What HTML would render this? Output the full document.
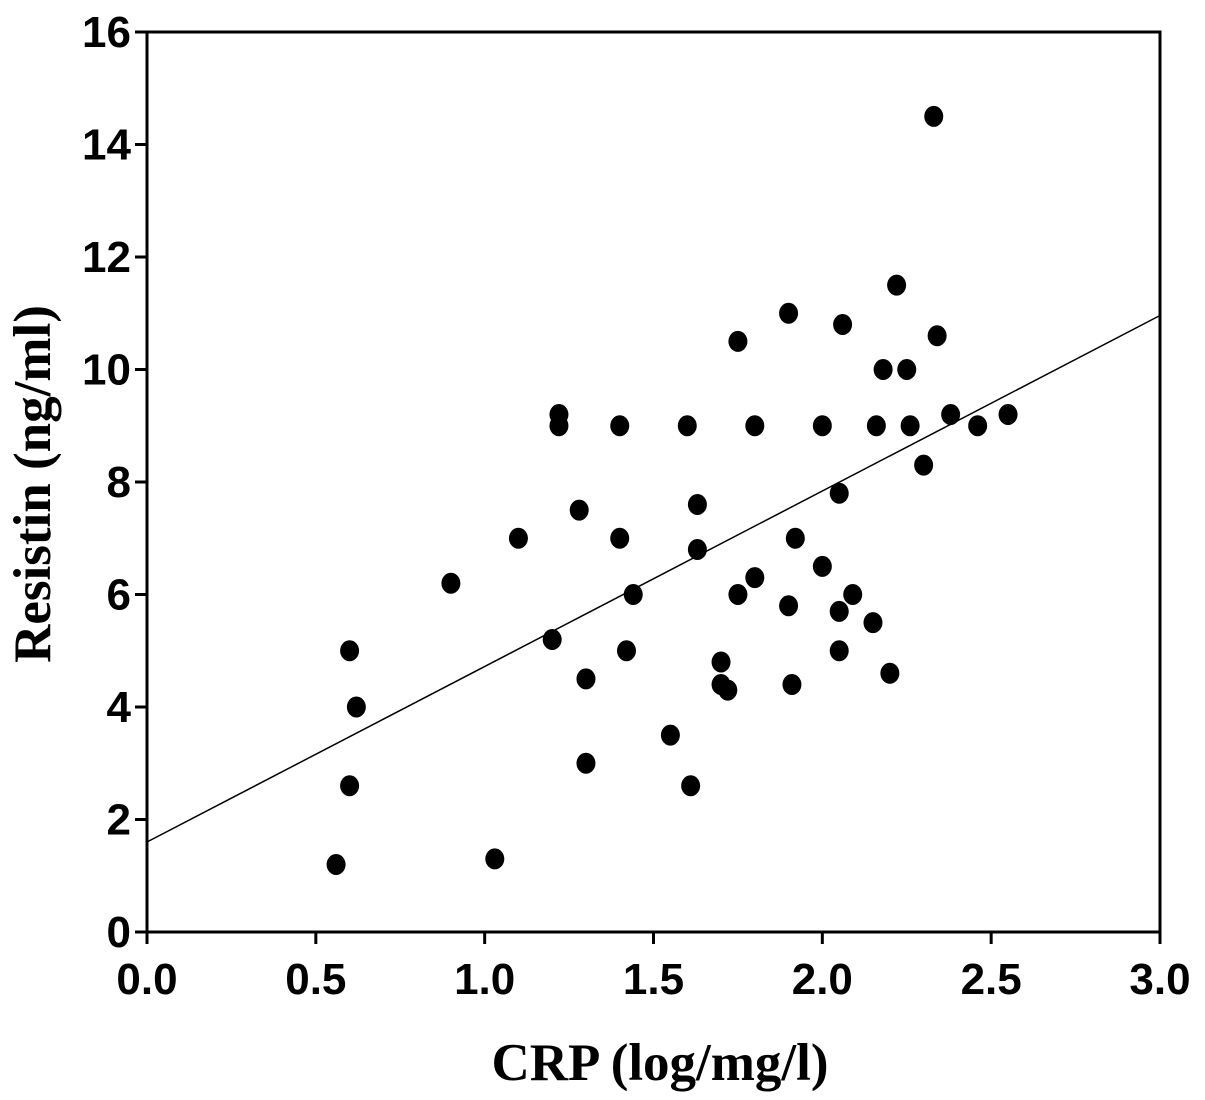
<!DOCTYPE html>
<html><head><meta charset="utf-8">
<style>
html,body{margin:0;padding:0;background:#fff;}
svg{display:block;}
.tick{font-family:"Liberation Sans",Arial,sans-serif;font-weight:bold;font-size:44px;fill:#000;}
.title{font-family:"Liberation Serif","Times New Roman",serif;font-weight:bold;font-size:53px;fill:#000;}
</style></head>
<body>
<svg id="chart" width="1205" height="1100" viewBox="0 0 1205 1100" xmlns="http://www.w3.org/2000/svg">
<rect x="147" y="32" width="1013" height="900" fill="none" stroke="#000" stroke-width="3"/>
<g id="axes"></g>
<line id="reg" stroke="#000" stroke-width="1.5"/>
<g id="pts"></g>
<text class="title" x="660" y="1080" text-anchor="middle">CRP (log/mg/l)</text>
<text class="title" x="0" y="0" text-anchor="middle" font-size="54" transform="translate(50,484) rotate(-90)">Resistin (ng/ml)</text>
</svg>
<script>
const xVals=[0.56,0.6,0.62,0.6,0.9,1.03,1.1,1.2,1.22,1.22,1.28,1.3,1.3,1.4,1.4,1.42,1.44,1.55,1.6,1.61,1.63,1.63,1.7,1.7,1.72,1.75,1.75,1.8,1.8,1.9,1.9,1.91,1.92,2.0,2.0,2.05,2.05,2.05,2.06,2.09,2.15,2.16,2.18,2.2,2.22,2.25,2.26,2.3,2.33,2.34,2.38,2.46,2.55];
const yVals=[1.2,5.0,4.0,2.6,6.2,1.3,7.0,5.2,9.2,9.0,7.5,4.5,3.0,9.0,7.0,5.0,6.0,3.5,9.0,2.6,7.6,6.8,4.8,4.4,4.3,10.5,6.0,9.0,6.3,11.0,5.8,4.4,7.0,9.0,6.5,7.8,5.7,5.0,10.8,6.0,5.5,9.0,10.0,4.6,11.5,10.0,9.0,8.3,14.5,10.6,9.2,9.0,9.2];
const xTicks=[0,0.5,1.0,1.5,2.0,2.5,3.0];
const xTickLabels=["0.0","0.5","1.0","1.5","2.0","2.5","3.0"];
const yTicks=[0,2,4,6,8,10,12,14,16];
const yTickLabels=["0","2","4","6","8","10","12","14","16"];
const regIntercept=[1.6];
const regEnd=[10.96];

const NS="http://www.w3.org/2000/svg";
function sx(v){return 147+(v-0)/3*1013;}
function sy(v){return 932-(v/16)*900;}
function mk(tag,attrs,parent){const e=document.createElementNS(NS,tag);for(const k in attrs)e.setAttribute(k,attrs[k]);parent.appendChild(e);return e;}
const axes=document.getElementById('axes');
xTicks.forEach((t,i)=>{
  const l=mk('line',{x1:sx(t),x2:sx(t),y1:932,y2:944,stroke:'#000','stroke-width':3},axes);
  
  
  const tx=mk('text',{x:sx(t),y:994,'text-anchor':'middle',class:'tick'},axes);
  tx.textContent=xTickLabels[i];
  
  
});
yTicks.forEach((t,i)=>{
  const l=mk('line',{x1:135,x2:147,y1:sy(t),y2:sy(t),stroke:'#000','stroke-width':3},axes);
  
  
  const tx=mk('text',{x:131,y:sy(t)+15,'text-anchor':'end',class:'tick'},axes);
  tx.textContent=yTickLabels[i];
  
  
});
const reg=document.getElementById('reg');
reg.setAttribute('x1',sx(0));reg.setAttribute('y1',sy(regIntercept[0]));
reg.setAttribute('x2',sx(3));reg.setAttribute('y2',sy(regEnd[0]));
const pts=document.getElementById('pts');
xVals.forEach((x,i)=>{
  const c=mk('ellipse',{cx:sx(x),cy:sy(yVals[i]),rx:9.5,ry:10.5,fill:'#000'},pts);
  
  
});
</script>
</body></html>
